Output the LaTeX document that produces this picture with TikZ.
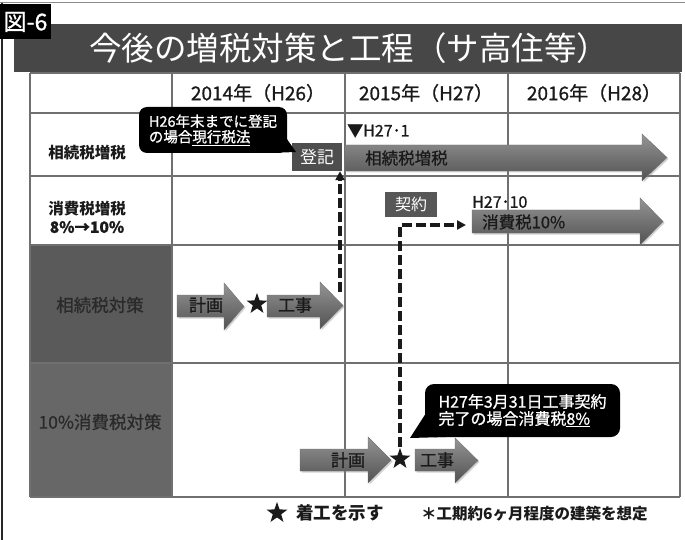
\documentclass[tikz,border=0pt]{standalone}
\usepackage{fontspec}
\setmainfont{Noto Sans CJK JP}
\newfontfamily\medfont[FakeBold=0.9]{Noto Sans CJK JP}
\usetikzlibrary{shapes.geometric,shadows,arrows.meta}
\definecolor{titlebg}{HTML}{474747}
\definecolor{gridc}{HTML}{707070}
\definecolor{cellA}{HTML}{5A5A5A}
\definecolor{cellB}{HTML}{676767}
\definecolor{boxc}{HTML}{4E4E4E}
\definecolor{txtdark}{HTML}{1A1A1A}
\definecolor{celltxt}{HTML}{2A2A2A}
\newcommand{\fs}[1]{\fontsize{#1}{#1}\selectfont}
\newcommand{\grarrow}[7]{%
  \path[arrowfill] (#1,#4) -- (#2,#4) -- (#2,#6) -- (#3,{(#6+#7)/2}) -- (#2,#7) -- (#2,#5) -- (#1,#5) -- cycle;}
\tikzset{
  arrowfill/.style={top color=black!42, bottom color=black!68, draw=black!55, line width=0.4pt,
    drop shadow={shadow xshift=1.5pt, shadow yshift=-1.5pt, opacity=0.35}},
  gridline/.style={draw=gridc, line width=1.3pt},
  rowlbl/.style={text=txtdark, font=\fs{15.5}\bfseries, align=center},
  celllbl/.style={text=celltxt, font=\fs{17.5}\medfont},
  hdr/.style={text=txtdark, font=\fs{19}\medfont},
  arrtxt/.style={text=txtdark, font=\fs{17}\medfont, inner sep=0pt},
  starnode/.style={star, star points=5, star point ratio=2.5, fill=txtdark, minimum size=22pt, inner sep=0pt},
  dashline/.style={draw=txtdark, line width=3.8pt, dash pattern=on 10pt off 4pt},
  calloutbox/.style={fill=black, rounded corners=8pt, text=white, align=left, inner sep=0pt},
  darkbox/.style={fill=boxc, text=white, inner sep=0pt},
}
\begin{document}
\begin{tikzpicture}[x=1pt,y=-1pt]
\useasboundingbox (0,0) rectangle (685,540);
\fill[white] (0,0) rectangle (685,540);
% frame
\draw[black!45, line width=1pt] (0,3) -- (685,3);
\draw[black!85, line width=1.3pt] (2,3) -- (2,540);
% title bar
\fill[titlebg] (14,24) rectangle (682,72);
\node[text=white, font=\fs{32.5}, inner sep=0pt] (title) at (349,48) {今後の増税対策と工程（サ高住等）};
\node[fill=black, text=white, font=\fs{23}\medfont, minimum width=51pt, minimum height=35pt, inner sep=0pt] (figlbl) at (25.5,22) {図-6};
% table cells
\fill[cellA] (30,245) rectangle (172,363);
\fill[cellB] (30,363) rectangle (172,497);
% grid
\foreach \yy in {73,113,176,245,363,497} \draw[gridline] (30,\yy) -- (680,\yy);
\foreach \xx in {30,172,345,508,680} \draw[gridline] (\xx,73) -- (\xx,497);
% headers
\node[hdr] (h1) at (258,93) {2014年（H26）};
\node[hdr] (h2) at (426,93) {2015年（H27）};
\node[hdr] (h3) at (594,93) {2016年（H28）};
% row labels
\node[rowlbl] (r1) at (87,153) {相続税増税};
\node[rowlbl, align=center] (r2) at (87,217) {消費税増税\\[3pt]{\medfont 8\%→10\%}};
\node[celllbl] (r3) at (100,305) {相続税対策};
\node[celllbl] (r4) at (100,422) {10\%消費税対策};
% big arrows
\grarrow{345}{642}{667}{145}{171}{134}{181}
\grarrow{472}{640}{663}{210}{233}{198}{245}
\grarrow{177}{224}{244}{295}{317}{283}{330}
\grarrow{267}{320}{343}{295}{317}{282}{329}
\grarrow{300}{368}{391}{449}{471}{437}{483}
\grarrow{415}{455}{478}{449}{471}{438}{483}
\node[arrtxt, anchor=west, font=\fs{16.5}\medfont] (a1t) at (365,158) {相続税増税};
\node[arrtxt, anchor=west, font=\fs{16.5}\medfont] (a2t) at (482,222) {消費税10\%};
\node[arrtxt] (a3t) at (206,305) {計画};
\node[arrtxt] (a4t) at (295,305) {工事};
\node[arrtxt] (a5t) at (348,460) {計画};
\node[arrtxt] (a6t) at (437,460) {工事};
\node[text=txtdark, font=\fs{16}\medfont, anchor=west, inner sep=0pt] (h271) at (347,131) {▼H27･1};
\node[text=txtdark, font=\fs{16}\medfont, anchor=west, inner sep=0pt] (h2710) at (472,202) {H27･10};
% stars
\node[starnode] (s1) at (257,304) {};
\node[starnode] (s2) at (400,459) {};
% boxes
\node[darkbox, font=\fs{17}, minimum width=50pt, minimum height=28pt] (toki) at (317,157) {登記};
\node[darkbox, font=\fs{16}, minimum width=52pt, minimum height=25pt, fill=black!66] (keiyaku) at (411,204.5) {契約};
% callouts
\fill[black] (282,132) -- (296,152) -- (268,153) -- cycle;
\node[calloutbox, font=\fs{14.5}\medfont, minimum width=148pt, minimum height=46pt] (c1) at (213,130) {H26年末までに登記\\[1pt]の場合\underline{現行税法}};
\fill[black] (428,410) -- (410,438) -- (446,437) -- cycle;
\node[calloutbox, font=\fs{16}\medfont, minimum width=195pt, minimum height=53pt, rounded corners=9pt] (c2) at (522.5,410.5) {H27年3月31日工事契約\\[1pt]完了の場合消費税\underline{8\%}};
% dashed connectors
\coordinate (d1) at (340,292);
\draw[dashline, -{Triangle[length=9pt,width=9pt]}] (d1) -- (toki.south -| d1);
\coordinate (a2w) at (466,225);
\draw[dashline, -{Triangle[length=9pt,width=9pt]}] (s2.north) |- (a2w);
% footer
\node[starnode] (fs) at (277,513) {};
\node[text=txtdark, font=\fs{17.5}\bfseries, anchor=west, inner sep=0pt] (ft1) at (296,513) {着工を示す};
\node[text=txtdark, font=\fs{15.5}\bfseries, anchor=west, inner sep=0pt] (ft2) at (421,514) {＊工期約6ヶ月程度の建築を想定};
\end{tikzpicture}
\end{document}
